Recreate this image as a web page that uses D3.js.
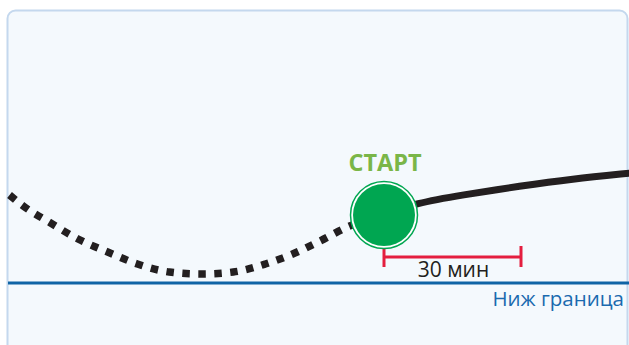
<!DOCTYPE html>
<html>
<head>
<meta charset="utf-8">
<script src="https://cdn.jsdelivr.net/npm/d3@7"></script>
<style>
  html, body { margin: 0; padding: 0; background: #fff; }
  svg { display: block; }
  text { font-family: "Open Sans", "Noto Sans", sans-serif; }
</style>
</head>
<body>
<svg width="629" height="345"></svg>
<script>
// minutes relative to start, glucose-like value
let pastTimes = [-82, -79, -73, -67, -60, -54, -47, -40, -33, -26, -20, -14, -8, 0];
let pastValues = [158, 147, 130, 114, 100, 89, 81, 79, 81, 89, 99, 112, 126, 138];
let futureTimes = [0, 7, 17, 30, 41, 54];
let futureValues = [138, 150, 158, 167, 174, 180];
let lowLimit = 70;
let startTime = 0;
let spanMinutes = 30;
let labels = {start: "СТАРТ", span: "30 мин", limit: "Ниж граница"};

let svg = d3.select("svg"),
    width = +svg.attr("width"),
    height = +svg.attr("height");

let x = d3.scaleLinear().domain([0, 30]).range([384, 521]),
    y = d3.scaleLinear().domain([70, 170]).range([283, 183]);

let past = pastTimes.map((t, i) => ({t: t, v: pastValues[i]}));
let future = futureTimes.map((t, i) => ({t: t, v: futureValues[i]}));

let line = d3.line()
    .curve(d3.curveMonotoneX)
    .x(d => x(d.t))
    .y(d => y(d.v));

let smooth = d3.line()
    .curve(d3.curveBasis)
    .x(d => x(d.t))
    .y(d => y(d.v));

// panel
svg.append("rect")
    .attr("x", 7.5)
    .attr("y", 10.5)
    .attr("width", 620)
    .attr("height", 400)
    .attr("rx", 8)
    .attr("fill", "#f4f9fd")
    .attr("stroke", "#c4d8ee")
    .attr("stroke-width", 2);

// lower limit
svg.append("line")
    .attr("x1", 8)
    .attr("x2", width)
    .attr("y1", y(lowLimit))
    .attr("y2", y(lowLimit))
    .attr("stroke", "#0f64a6")
    .attr("stroke-width", 3);

svg.append("text")
    .attr("x", 624)
    .attr("y", y(lowLimit) + 23)
    .attr("text-anchor", "end")
    .attr("font-size", 20.5)
    .attr("fill", "#1a6aaf")
    .text(labels.limit);

// curves
svg.append("path")
    .datum(past)
    .attr("d", line)
    .attr("fill", "none")
    .attr("stroke", "#231f20")
    .attr("stroke-width", 7.5)
    .attr("stroke-dasharray", "7.5,8.5");

svg.append("path")
    .datum(future)
    .attr("d", smooth)
    .attr("fill", "none")
    .attr("stroke", "#231f20")
    .attr("stroke-width", 7);

// 30 min bracket
let by = 257;
let bracket = svg.append("g")
    .attr("stroke", "#e41e3f")
    .attr("stroke-width", 3);
bracket.append("line")
    .attr("x1", x(startTime)).attr("x2", x(startTime + spanMinutes))
    .attr("y1", by).attr("y2", by);
[startTime, startTime + spanMinutes].forEach(t => {
    bracket.append("line")
        .attr("x1", x(t)).attr("x2", x(t))
        .attr("y1", by - 11).attr("y2", by + 10);
});

svg.append("text")
    .attr("x", (x(startTime) + x(startTime + spanMinutes)) / 2 + 1)
    .attr("y", 277)
    .attr("text-anchor", "middle")
    .attr("font-size", 21)
    .attr("fill", "#231f20")
    .text(labels.span);

// start marker
let cx = x(startTime), cy = y(pastValues[pastValues.length - 1]);
svg.append("circle")
    .attr("cx", cx).attr("cy", cy).attr("r", 33.5)
    .attr("fill", "#ffffff")
    .attr("stroke", "#00a651")
    .attr("stroke-width", 1.5);
svg.append("circle")
    .attr("cx", cx).attr("cy", cy).attr("r", 31)
    .attr("fill", "#00a651");

svg.append("text")
    .attr("x", cx + 1)
    .attr("y", 171)
    .attr("text-anchor", "middle")
    .attr("font-size", 23.5)
    .attr("font-weight", "bold")
    .attr("fill", "#7ab648")
    .text(labels.start);
</script>
</body>
</html>
